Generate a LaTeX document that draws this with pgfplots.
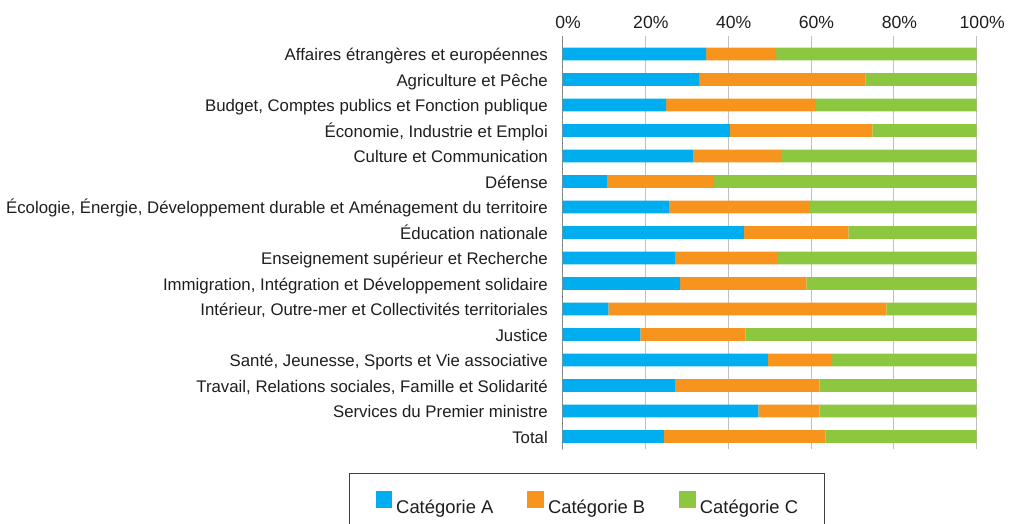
\documentclass[border=0pt]{standalone}
\usepackage{fontspec}
\setmainfont{Liberation Sans}
\usepackage{pgfplots}
\pgfplotsset{compat=1.18}
\definecolor{colA}{RGB}{0,174,239}
\definecolor{colB}{RGB}{247,148,30}
\definecolor{colC}{RGB}{141,198,63}
\definecolor{txt}{RGB}{30,30,30}
\definecolor{gridc}{RGB}{192,192,192}
\begin{document}
\begin{tikzpicture}
\begin{axis}[
  at={(562.5pt,-449.3pt)}, anchor=south west,
  scale only axis, width=414.2pt, height=413.3pt,
  xbar stacked, bar width=12.7pt,
  xmin=0, xmax=100, ymin=-0.5, ymax=15.708,
  axis line style={draw=none},
  xtick={0,20,40,60,80,100},
  xticklabels={0\%,20\%,40\%,60\%,80\%,100\%},
  xticklabel pos=upper,
  xtick style={draw=none},
  xticklabel style={anchor=base, inner sep=0pt, yshift=7.5pt, xshift=5.5pt, text=txt, font=\fontsize{17.6}{20}\selectfont},
  xmajorgrids, grid style={gridc, line width=1pt},
  ytick={0,1,...,15},
  yticklabels={Total,Services du Premier ministre,{Travail, Relations sociales, Famille et Solidarité},{Santé, Jeunesse, Sports et Vie associative},Justice,{Intérieur, Outre-mer et Collectivités territoriales},{Immigration, Intégration et Développement solidaire},Enseignement supérieur et Recherche,Éducation nationale,{Écologie, Énergie, Développement durable et Aménagement du territoire},Défense,Culture et Communication,{Économie, Industrie et Emploi},{Budget, Comptes publics et Fonction publique},Agriculture et Pêche,Affaires étrangères et européennes},
  ytick pos=left,
  major tick length=0pt,
  ytick style={draw=none},
  yticklabel style={anchor=base east, inner sep=0pt, xshift=-14.5pt, yshift=-6.5pt, text=txt, font=\fontsize{16.8}{20}\selectfont},
  legend columns=3,
  legend image code/.code={\fill[#1] (0pt,0pt) rectangle (16.7pt,16.7pt);},
  legend style={at={(-0.5154,-0.05807)}, anchor=north west, draw=black!75, line width=1pt,
    inner xsep=26pt, inner ysep=17pt,
    nodes={inner sep=0pt, text=txt, line width=0.4pt},
    font=\fontsize{18.4}{22}\selectfont,
    /tikz/every odd column/.append style={column sep=4pt},
    /tikz/every even column/.append style={column sep=34pt}},
]
\addplot[fill=colA, draw=none] coordinates {
 (24.5,0) (47.3,1) (27.3,2) (49.6,3) (18.8,4) (11.1,5) (28.4,6) (27.3,7)
 (43.8,8) (25.7,9) (10.7,10) (31.5,11) (40.4,12) (25.0,13) (33.0,14) (34.7,15)};
\addplot[fill=colB, draw=none] coordinates {
 (39.0,0) (14.7,1) (34.7,2) (15.5,3) (25.4,4) (67.1,5) (30.5,6) (24.7,7)
 (25.2,8) (34.0,9) (25.9,10) (21.3,11) (34.4,12) (36.2,13) (40.2,14) (16.9,15)};
\addplot[fill=colC, draw=none] coordinates {
 (36.5,0) (38.0,1) (38.0,2) (34.9,3) (55.8,4) (21.8,5) (41.1,6) (48.0,7)
 (31.0,8) (40.3,9) (63.4,10) (47.2,11) (25.2,12) (38.8,13) (26.8,14) (48.4,15)};
\legend{Catégorie A,Catégorie B,Catégorie C}
\draw[line width=1pt, black!85] (axis cs:0,-0.5) -- (axis cs:0,15.708);
\pgfplotsinvokeforeach{-0.5,0.5,1.5,2.5,3.5,4.5,5.5,6.5,7.5,8.5,9.5,10.5,11.5,12.5,13.5,14.5,15.5}{
  \draw[line width=1pt, black!85] (axis cs:0,#1) -- ++(-3.5pt,0pt);
}
\end{axis}
\pgfresetboundingbox
\path[use as bounding box] (0pt,0pt) rectangle (1017pt,-523pt);
\end{tikzpicture}
\end{document}
